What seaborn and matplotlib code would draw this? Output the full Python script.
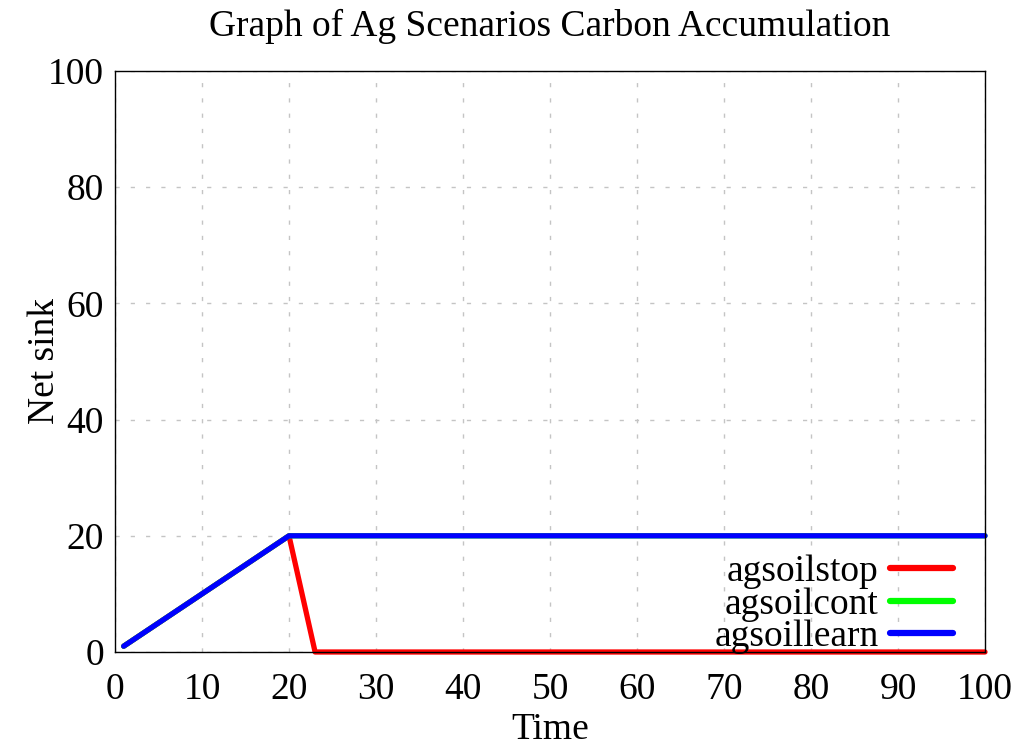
import pandas as pd
import matplotlib
matplotlib.use("Agg")
import matplotlib.pyplot as plt
import seaborn as sns

# Data (vertices)
stop_time = [1, 20, 23, 100]
stop_vals = [1, 20, 0, 0]
cont_time = [1, 20, 100]
cont_vals = [1, 20, 20]
learn_time = [1, 20, 100]
learn_vals = [1, 20, 20]

series_names = ["agsoilstop", "agsoilcont", "agsoillearn"]
colors = ["#ff0000", "#00ff00", "#0000ff"]

rows = []
for name, ts, vs in [("agsoilstop", stop_time, stop_vals),
                     ("agsoilcont", cont_time, cont_vals),
                     ("agsoillearn", learn_time, learn_vals)]:
    for t, v in zip(ts, vs):
        rows.append({"Time": t, "Net sink": v, "Scenario": name})
df = pd.DataFrame(rows)

sns.set_style("white")
plt.rcParams["font.family"] = ["Liberation Serif", "DejaVu Serif"]
plt.rcParams["text.color"] = "black"
plt.rcParams["axes.labelcolor"] = "black"

fig = plt.figure(figsize=(10.19, 7.5), dpi=100)
ax = fig.add_axes([115 / 1019, 1 - 652 / 750, 870 / 1019, 581 / 750])

sns.lineplot(data=df, x="Time", y="Net sink", hue="Scenario",
             hue_order=series_names, palette=colors, linewidth=3.8,
             sort=False, estimator=None, ax=ax)
for line in ax.get_lines():
    line.set_solid_capstyle("round")
    line.set_solid_joinstyle("round")
    line.set_clip_on(False)

ax.set_xlim(0, 100)
ax.set_ylim(0, 100)
ax.set_xticks(range(0, 101, 10))
ax.set_yticks(range(0, 101, 20))
ax.grid(True, color="#c4c4c4", linestyle=(0, (3, 8)), linewidth=1.0)
ax.tick_params(direction="in", length=6, width=0.9, labelsize=27,
               colors="black")
ax.tick_params(axis="x", pad=15)
ax.tick_params(axis="y", pad=8)
for s in ax.spines.values():
    s.set_visible(True)
    s.set_color("black")
    s.set_linewidth(1.0)

ax.set_xlabel("Time", fontsize=27, labelpad=4)
ax.set_ylabel("Net sink", fontsize=27, labelpad=-10)
ax.set_title("Graph of Ag Scenarios Carbon Accumulation", fontsize=27, pad=25)

leg = ax.legend(loc="lower right", frameon=False, markerfirst=False,
                fontsize=27, handlelength=1.68, labelspacing=-0.05,
                handletextpad=0.3, borderaxespad=0.0, borderpad=0.0,
                bbox_to_anchor=(0.963, -0.004))
for line in leg.get_lines():
    line.set_linewidth(4.5)
    line.set_solid_capstyle("round")

fig.savefig("out.png", dpi=100)
